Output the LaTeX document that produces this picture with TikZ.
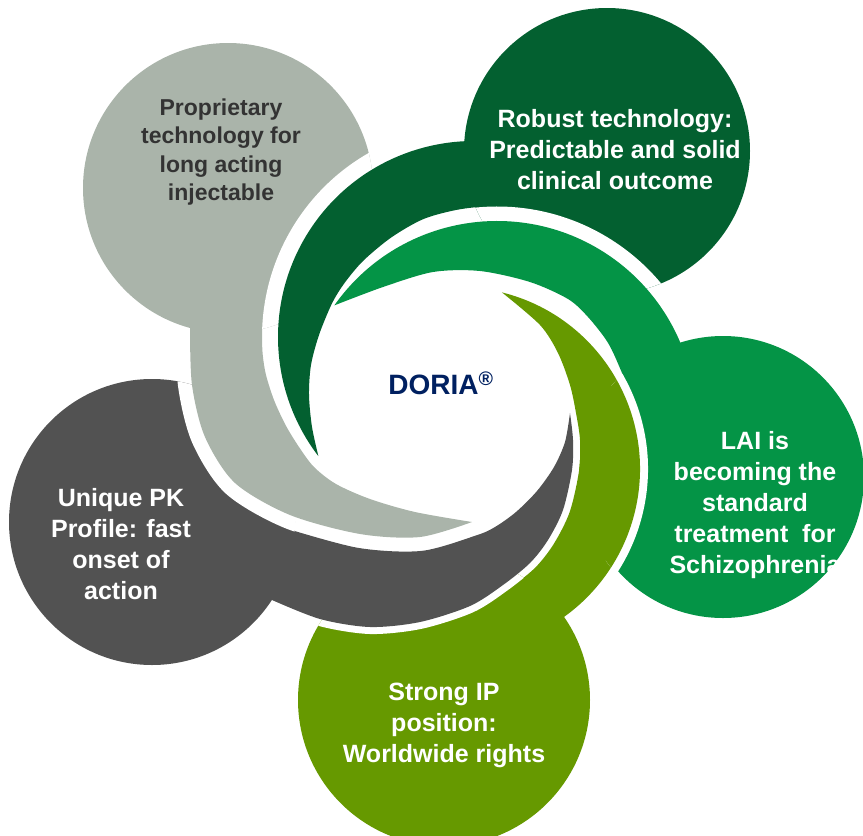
\documentclass[tikz,border=0pt]{standalone}
\usepackage{fontspec}
\setmainfont{Liberation Sans}
\usepackage{xcolor}
\definecolor{lgray}{RGB}{170,180,170}
\definecolor{dkgreen}{RGB}{3,96,48}
\definecolor{mdgreen}{RGB}{4,148,70}
\definecolor{olivegreen}{RGB}{102,153,0}
\definecolor{dgray}{RGB}{82,82,82}
\definecolor{navy}{RGB}{0,32,96}
\definecolor{ltext}{RGB}{51,51,51}
\tikzset{
	gapline/.style={draw=white, line width=#1pt},
	petaltext/.style={align=center, text=white, font=\bfseries\fontsize{25}{31}\selectfont}
}

\begin{document}
\begin{tikzpicture}[x=1pt, y=-1pt]
	\useasboundingbox (0,0) rectangle (863,836);

	% olive: circle and arm
	\fill[olivegreen] (444,700) circle[radius=146];
	\fill[olivegreen] (458,469) ++(283.96:182) arc[start angle=283.96, end angle=420, radius=182]
		-- (480,650) -- plot[smooth] coordinates {(506.5,591) (534.6,568.3) (553.6,544.2) (569.7,512) (579,471) (580,440) (576,413) (570,385) (558,353) (540,325) (501.9,292.4)} -- cycle;

	% dark gray: circle and arm
	\begin{scope}
		\clip (444,700) circle[radius=146];
		\draw[gapline=14] plot[smooth] coordinates {(272,600) (320,619) (370,627) (420,622) (470,606) (503,585) (530,563) (548,540) (563,510) (572,470) (573,440) (570,413)};
	\end{scope}
	\fill[dgray] (152,522) circle[radius=143];
	\fill[dgray] (250,500) -- plot[smooth] coordinates {(272,600) (320,619) (370,627) (420,622) (470,606) (503,585) (530,563) (548,540) (563,510) (572,470) (573,440) (570,413)}
		-- plot[smooth] coordinates {(570,413) (565,442) (554,467) (537,491) (516,512) (495,527) (475.9,535.5) (421.5,550.9) (357.7,547.8) (284.7,528)} -- cycle;

	% light gray: circle and arm
	\begin{scope}
		\clip (152,522) circle[radius=143];
		\draw[gapline=28] plot[smooth] coordinates {(190,328) (192,385) (205,437) (235,483) (290,515) (360,534) (420,537) (472,522)};
	\end{scope}
	\fill[lgray] (228,188) circle[radius=145];
	\fill[lgray] (205,260) -- plot[smooth] coordinates {(190,328) (192,385) (205,437) (235,483) (290,515) (360,534) (420,537) (472,522)}
		-- plot[smooth] coordinates {(472,522) (415,512) (370,499) (336,484) (314,467) (299,447) (285.5,424.9) (274,400) (266,375) (262.8,355.5) (262,337) (262.8,318.5)} -- (255,270) -- cycle;

	% dark green: circle and arm
	\begin{scope}
		\clip (228,188) circle[radius=145];
		\draw[gapline=32] (474,337) ++(300:196) arc[start angle=300, end angle=142.54, radius=196];
	\end{scope}
	\fill[dkgreen] (607,151) circle[radius=143];
	\fill[dkgreen] (474,337) ++(300:196) arc[start angle=300, end angle=142.54, radius=196]
		-- plot[smooth] coordinates {(318.4,456.2) (312,427) (309,395) (311,365) (319,335) (331.9,303.6) (344.7,282.8) (363.3,260.7) (391.5,237.3) (423.8,218.9) (459.8,209.3) (497,206) (534.2,209.3) (570.2,218.9) (604,234.7) (634.6,256.1) (660.9,282.4)} -- (640,180) -- cycle;

	% medium green: circle and arm
	\begin{scope}
		\clip (607,151) circle[radius=143];
		\draw[gapline=29] (497,420) ++(215.18:199) arc[start angle=215.18, end angle=375, radius=199];
	\end{scope}
	\fill[mdgreen] (723,477) circle[radius=141];
	\fill[mdgreen] (497,420) ++(215.18:199) arc[start angle=215.18, end angle=375, radius=199]
		-- plot[smooth] coordinates {(622.5,564) (630.2,549.3) (641.5,518.2) (648,469) (641.5,419.8) (622.5,374) (608.1,343) (588,317) (568,299) (530,282) (480,271) (433,272) (383,287) (334.3,305.4)} -- cycle;

	% olive arm once more, over the medium green circle
	\begin{scope}
		\clip (723,477) circle[radius=144];
		\draw[gapline=16] (458,469) ++(283.96:182) arc[start angle=283.96, end angle=420, radius=182];
		\fill[olivegreen] (458,469) ++(283.96:182) arc[start angle=283.96, end angle=420, radius=182]
			-- (480,650) -- plot[smooth] coordinates {(506.5,591) (534.6,568.3) (553.6,544.2) (569.7,512) (579,471) (580,440) (576,413) (570,385) (558,353) (540,325) (501.9,292.4)} -- cycle;
	\end{scope}

	% texts
	\node[petaltext, text=ltext, font=\bfseries\fontsize{23}{28.5}\selectfont] (proprietary) at (221,152) {Proprietary\\technology for\\long acting\\injectable};
	\node[petaltext] (robust) at (615,150) {Robust technology:\\Predictable and solid\\clinical outcome};
	\node[petaltext] (lai) at (755,505) {LAI is\\becoming the\\standard\\treatment\ \ for\\Schizophrenia};
	\node[petaltext] (strongip) at (444,725) {Strong IP\\position:\\Worldwide rights};
	\node[petaltext] (uniquepk) at (121,544) {Unique PK\\Profile: fast\\onset of\\action};
	\node[text=navy, font=\bfseries\fontsize{28}{30}\selectfont] (doria) at (441,383) {DORIA\textsuperscript{\textregistered}};
\end{tikzpicture}
\end{document}
